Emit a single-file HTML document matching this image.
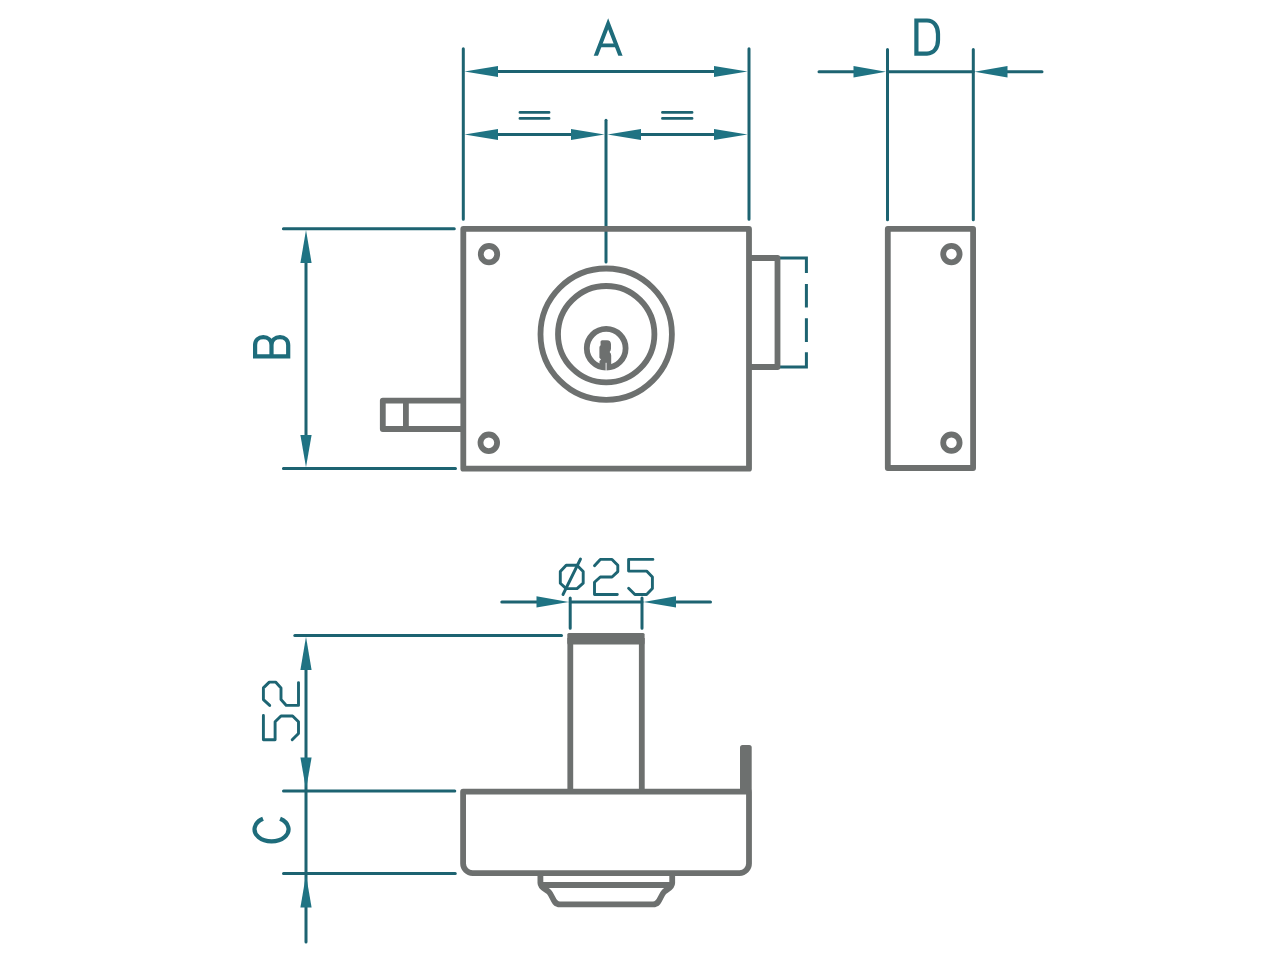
<!DOCTYPE html>
<html><head><meta charset="utf-8"><style>
html,body{margin:0;padding:0;background:#fff;width:1280px;height:960px;overflow:hidden;font-family:"Liberation Sans",sans-serif;}
svg{display:block;}
</style></head><body>
<svg width="1280" height="960" viewBox="0 0 1280 960">
<defs>
<clipPath id="clipA"><rect x="580" y="0" width="60" height="55.8"/></clipPath>
</defs>
<!-- TEAL dimension lines -->
<g fill="none" stroke="#1d6371" stroke-width="3" stroke-linecap="round">
  <!-- A extension lines -->
  <path d="M463.3 48.8 V219.2 M749 48.8 V219.2"/>
  <path d="M490 71.5 H722"/>
  <path d="M606 120.2 V262"/>
  <path d="M490 134.5 H579 M633 134.5 H722"/>
  <!-- = signs -->
  <path d="M520 112.4 H549 M520 118.4 H549 M662.5 112.4 H692 M662.5 118.4 H692" stroke-width="2.9"/>
  <!-- D -->
  <path d="M887.5 49.6 V219.8 M973.3 49.6 V219.8"/>
  <path d="M819 71.75 H861 M887.5 71.75 H973.3 M1000 71.75 H1042"/>
  <!-- B -->
  <path d="M283.4 228.7 H454.3 M283.4 468.5 H455.5"/>
  <path d="M306 255 V443"/>
  <!-- bottom -->
  <path d="M501.8 601.9 H544 M570.2 601.9 H642 M668 601.9 H710.5"/>
  <path d="M570.2 598 V628.2 M642 598 V628.2"/>
  <path d="M294.8 635.5 H561.5"/>
  <path d="M306 662 V942"/>
  <path d="M283.5 791 H454.8 M283.5 873.4 H455.3"/>
  <!-- dashed bolt throw -->
  <path d="M780 258 H806.4 V273 M806.4 284 V307.5 M806.4 318.3 V342 M806.4 352.3 V367 H780" stroke-linecap="butt"/>
</g>
<!-- arrowheads -->
<g fill="#1f7383">
  <!-- A row -->
  <path d="M464.5 71.5 L498 65.9 V77.1 Z"/>
  <path d="M747.5 71.5 L714 65.9 V77.1 Z"/>
  <path d="M464.5 134.5 L498 128.9 V140.1 Z"/>
  <path d="M604.5 134.5 L571 128.9 V140.1 Z"/>
  <path d="M607.5 134.5 L641 128.9 V140.1 Z"/>
  <path d="M747.5 134.5 L714 128.9 V140.1 Z"/>
  <!-- D -->
  <path d="M886 71.75 L853.5 66.1 V77.4 Z"/>
  <path d="M974.5 71.75 L1007.5 66.1 V77.4 Z"/>
  <!-- B -->
  <path d="M306 230 L300.4 263 H311.6 Z"/>
  <path d="M306 467.2 L300.4 435 H311.6 Z"/>
  <!-- Ø25 -->
  <path d="M568.8 601.9 L536.5 596.3 V607.5 Z"/>
  <path d="M643.5 601.9 L676 596.3 V607.5 Z"/>
  <!-- 52 / C -->
  <path d="M306 636.8 L300.4 670 H311.6 Z"/>
  <path d="M306 789.6 L300.4 757.5 H311.6 Z"/>
  <path d="M306 874.8 L300.4 907.6 H311.6 Z"/>
</g>
<!-- letters -->
<g fill="none" stroke="#1e6c7b" stroke-width="4.2" stroke-linecap="round" stroke-linejoin="miter">
  <g clip-path="url(#clipA)" stroke-linecap="butt"><path d="M594.7 58.8 L608.15 23.9 L621.6 58.8" stroke-width="4"/>
  <path d="M600 45.4 H616.3" stroke-width="3.8"/></g>
  <path d="M916.4 20.5 H927 C934.2 20.5 938 26.5 938 34 V40 C938 47.5 934.2 53.6 927 53.6 H916.4 Z" stroke-linecap="butt"/>
  <!-- B rotated -->
  <path d="M271.5 356.4 V345 C271.5 340 268 337.2 263.3 337.2 C258.5 337.2 255.1 340 255.1 345 V356.4 H288.2 V345 C288.2 340 284.8 337.2 280 337.2 C275 337.2 271.5 340 271.5 345" stroke-linejoin="miter"/>
  <!-- C rotated -->
  <path d="M263 818.8 A17 12.1 0 1 0 280.1 818.8" stroke-linecap="butt"/>
</g>
<!-- CAD text -->
<g fill="none" stroke="#1d6573" stroke-width="2.9" stroke-linecap="round" stroke-linejoin="round">
  <path d="M566.2 565.3 H577 L583.2 571.6 V583.2 L577 588.6 H566.2 L560.3 583.2 V571.6 Z"/>
  <path d="M580.5 559 L563 594.5"/>
  <path d="M0 -28.8 L5.8 -35.1 H17.5 L23.3 -29.2 V-22.9 L17.5 -17.5 H5.8 L0 -12.2 V0 H22.8" transform="translate(594.5 594.5)"/>
  <path d="M24.3 -35.1 H0 V-23.4 H18 L23.8 -17.5 V-5.9 L18 0 H6.3 L0 -6.3" transform="translate(628.6 594.5)"/>
  <path d="M24.3 -35.1 H0 V-23.4 H18 L23.8 -17.5 V-5.9 L18 0 H6.3 L0 -6.3" transform="translate(298.5 739.8) rotate(-90)"/>
  <path d="M0 -28.8 L5.8 -35.1 H17.5 L23.3 -29.2 V-22.9 L17.5 -17.5 H5.8 L0 -12.2 V0 H22.8" transform="translate(298.5 705.4) rotate(-90)"/>
</g>
<!-- GRAY drawing -->
<g fill="none" stroke="#6d706f" stroke-width="5.8" stroke-linejoin="round">
  <rect x="463.3" y="228.9" width="285.7" height="239.8"/>
  <circle cx="489" cy="254.2" r="8.2"/>
  <circle cx="488.8" cy="442.8" r="8.3"/>
  <circle cx="606.2" cy="334.2" r="65.7"/>
  <circle cx="606.2" cy="334.2" r="48.2"/>
  <circle cx="606.2" cy="348.3" r="19.4"/>
  <path d="M749 258 H777.5 V367 H749"/>
  <path d="M463.3 400.6 H382.8 V429 H463.3 M405.9 400.6 V429"/>
  <!-- side view -->
  <rect x="887.8" y="228.9" width="85.3" height="239.1"/>
  <circle cx="951.4" cy="254.1" r="8.2"/>
  <circle cx="951.4" cy="442.7" r="8.2"/>
  <!-- cylinder -->
  <path d="M570.3 792 V638 M641.8 792 V638"/>
  <!-- base -->
  <path d="M463.1 791.7 V863.6 A9.5 9.5 0 0 0 472.6 873.1 H739.5 A9.5 9.5 0 0 0 749 863.6 V791.7 Z"/>
  <!-- knob -->
  <path d="M540.4 873 V883 C540.4 888 546 889 549 892 C553 896 553 904.4 560 904.4 H653 C660 904.4 660 896 664 892 C667 889 672.2 888 672.2 883 V873"/>
  <path d="M540.4 885 H672.2"/>
</g>
<g fill="#6d706f">
  <rect x="567.3" y="633.1" width="77.3" height="11.3" rx="1.5"/>
  <rect x="740" y="745" width="11.7" height="47" rx="2.5"/>
  <path d="M600.5 341.8 Q600.5 340.2 602.2 340.2 H607 Q611 340.2 611 344.5 V348.5 Q611 350.5 609.6 352 Q611.2 353 611.2 355.5 V368 H599.5 V361 L601 359.4 L599.4 357.8 V347.5 Q599.4 346.2 600.6 345.2 Z"/>
  <path d="M606.1 362.8 V372" stroke="#fff" stroke-width="0.9" fill="none"/>
</g>
</svg>
</body></html>
